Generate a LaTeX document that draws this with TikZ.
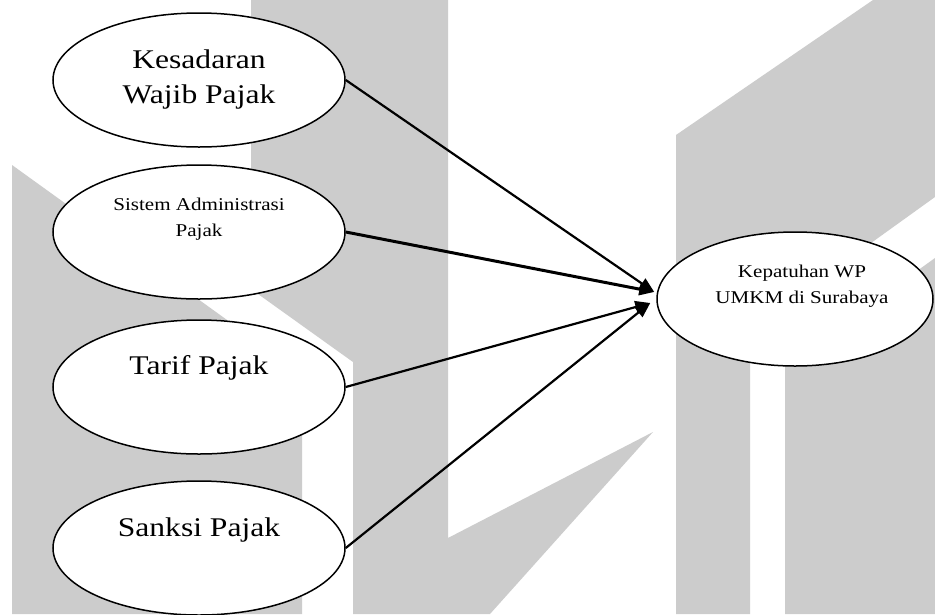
\documentclass[tikz,border=0pt]{standalone}
\usepackage{fontspec}
\setmainfont{Liberation Serif}[FakeStretch=1.17]
\usetikzlibrary{shapes.geometric, arrows.meta}

\tikzset{
  var/.style={ellipse, draw, line width=1.5pt, fill=white, inner sep=0pt,
              minimum width=292pt, minimum height=134pt},
  big/.style={font=\fontsize{27}{35}\selectfont},
  small/.style={font=\fontsize{18}{25.5}\selectfont},
  arr/.style={line width=2.2pt, -{Triangle[length=15pt,width=12pt]}},
  mark gray/.style={fill=black!20, draw=none}
}

\begin{document}
\begin{tikzpicture}[x=1pt, y=-1pt]

    % Page
    \fill[white] (0,0) rectangle (935,614);
    \useasboundingbox (0,0) rectangle (935,614);

    % Draw Watermark
    \fill[mark gray] (12,165) -- (302,374) -- (302,614) -- (12,614) -- cycle;
    \fill[mark gray] (251,0) -- (353,0) -- (353,362) -- (251,289) -- cycle;
    \fill[mark gray] (353,0) -- (448,0) -- (448,538) -- (653,432) -- (490,614) -- (353,614) -- cycle;
    \fill[mark gray] (676,135) -- (873,0) -- (935,0) -- (935,197) -- (750,330) -- (750,614) -- (676,614) -- cycle;
    \fill[mark gray] (785,366) -- (935,258) -- (935,614) -- (785,614) -- cycle;

    % Draw Variables
    \node[var, big, align=center] (kesadaran) at (199,80) {Kesadaran\\Wajib Pajak};
    \node[var, label={[small, align=center, yshift=13pt]center:Sistem Administrasi\\Pajak}] (sistem) at (199,232) {};
    \node[var, label={[big, yshift=19pt]center:Tarif Pajak}] (tarif) at (199,387) {};
    \node[var, label={[big, yshift=18pt]center:Sanksi Pajak}] (sanksi) at (199,548) {};
    \node[var, minimum width=276pt, label={[small, align=center, xshift=7pt, yshift=13pt]center:Kepatuhan WP\\UMKM di Surabaya}] (kepatuhan) at (795,299) {};

    % Draw Arrows
    \draw[arr] (kesadaran.east) -- ([xshift=-2pt, yshift=7pt]kepatuhan.west);
    \draw[arr, line width=3pt] (sistem.east) -- ([xshift=-2pt, yshift=7pt]kepatuhan.west);
    \draw[arr] (tarif.east) -- ([xshift=-6pt, yshift=-4pt]kepatuhan.west);
    \draw[arr] (sanksi.east) -- ([xshift=-6pt, yshift=-4pt]kepatuhan.west);

\end{tikzpicture}
\end{document}
